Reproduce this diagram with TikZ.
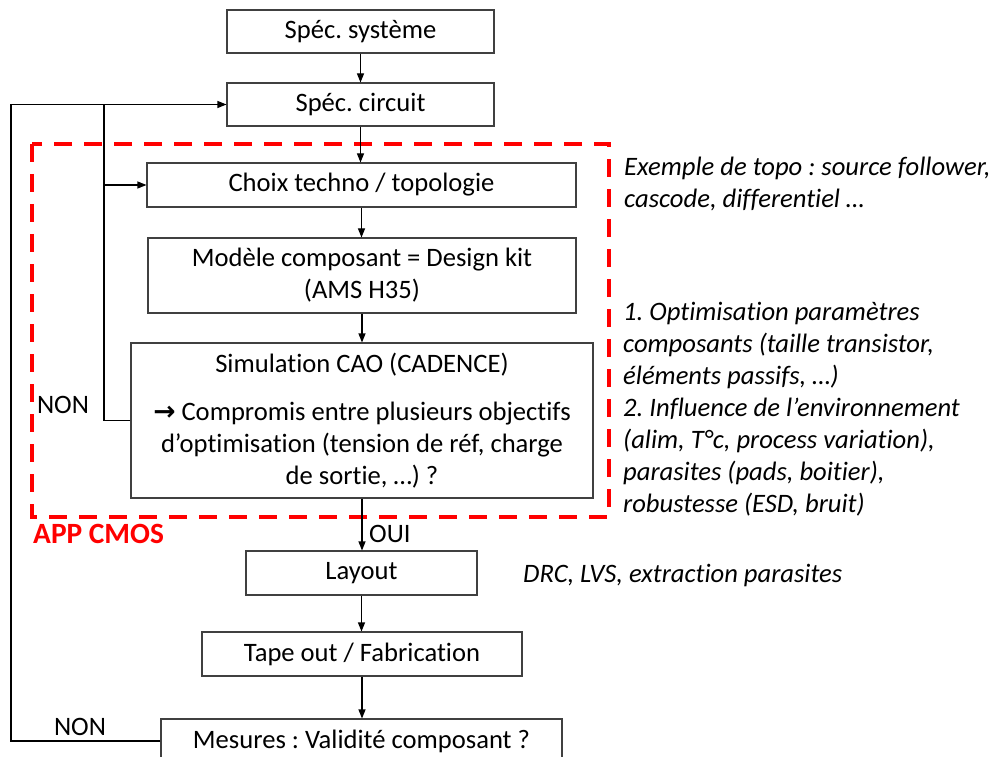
\documentclass[tikz,border=0pt]{standalone}
\usepackage{fontspec}
\setmainfont{Carlito}[Ligatures=NoCommon]
\newfontfamily\dejavu{DejaVu Sans Bold}
\usetikzlibrary{arrows.meta}
\newcommand\fsz{\fontsize{26.6}{32}\selectfont\frenchspacing}
\begin{document}
\begin{tikzpicture}[x=1pt,y=-1pt,
  box/.style={draw=black!75,line width=1.1pt,rectangle,inner sep=0pt,align=center,font=\fsz},
  arr/.style={-{Triangle[length=9pt,width=7pt]},line width=1.1pt},
  wire/.style={line width=1.1pt},
  note/.style={font=\fsz\itshape,align=left,anchor=north west,inner sep=0pt},
  lbl/.style={font=\fsz,inner sep=0pt},
  zone/.style={draw=red,line width=4.5pt,dash pattern=on 18pt off 12pt}]
\useasboundingbox (0,0) rectangle (997,757);
\clip (0,0) rectangle (997,757);

% red dashed zone
\draw[zone] (32,144) rectangle (609,517);
\node[font=\fontsize{29.4}{34}\selectfont\bfseries,text=red,anchor=west,inner sep=0pt] (app) at (33,533.5) {APP CMOS};

% boxes
\node[box,minimum width=267pt,minimum height=43pt] (sys) at (360.5,31.5) {Spéc. système};
\node[box,minimum width=267pt,minimum height=43pt] (circ) at (360.5,104.5) {Spéc. circuit};
\node[box,minimum width=429pt,minimum height=44pt] (choix) at (361.5,185) {Choix techno / topologie};
\node[box,minimum width=428pt,minimum height=75pt] (mod) at (362,275.5) {Modèle composant = Design kit\\(AMS H35)};
\node[box,minimum width=462pt,minimum height=155pt] (sim) at (362,420.5) {Simulation CAO (CADENCE)\\[16pt]{\dejavu →} Compromis entre plusieurs objectifs\\d’optimisation (tension de réf, charge\\de sortie, …) ?};
\node[box,minimum width=231pt,minimum height=44pt] (lay) at (361.5,573) {Layout};
\node[box,minimum width=320pt,minimum height=44pt] (tape) at (362,654) {Tape out / Fabrication};
\node[box,minimum width=401pt,minimum height=44pt] (mes) at (361.5,741) {Mesures : Validité composant ?};

% main flow
\draw[arr] (sys.south) -- (sys.south |- circ.north);
\draw[arr] (circ.south) -- (circ.south |- choix.north);
\draw[arr] (choix.south) -- (choix.south |- mod.north);
\draw[arr] (mod.south) -- (mod.south |- sim.north);
\draw[arr] (sim.south) -- (sim.south |- lay.north);
\draw[arr] (lay.south) -- (lay.south |- tape.north);
\draw[arr] (tape.south) -- (tape.south |- mes.north);

% feedback loops
\coordinate (j1) at (104,104.5);
\coordinate (j2) at (104,185);
\coordinate (o1) at (11,104.5);
\draw[wire] (sim.west) -| (j1);
\draw[arr] (j2) -- (choix.west);
\draw[arr] (mes.west) -| (o1) -- (circ.west);

% labels
\node[lbl] (non1) at (63,405) {NON};
\node[lbl] (non2) at (80,727) {NON};
\node[lbl,anchor=west] (oui) at (369,534) {OUI};

% notes
\node[note] (n1) at (624,152.6) {\strut Exemple de topo : source follower,\\cascode, differentiel …};
\node[note] (n2) at (623,297.6) {\strut 1. Optimisation paramètres\\composants (taille transistor,\\éléments passifs, …)\\2. Influence de l’environnement\\(alim, T°c, process variation),\\parasites (pads, boitier),\\robustesse (ESD, bruit)};
\node[font=\fsz\itshape,anchor=west,inner sep=0pt] (drc) at (523,575) {DRC, LVS, extraction parasites};
\end{tikzpicture}
\end{document}
